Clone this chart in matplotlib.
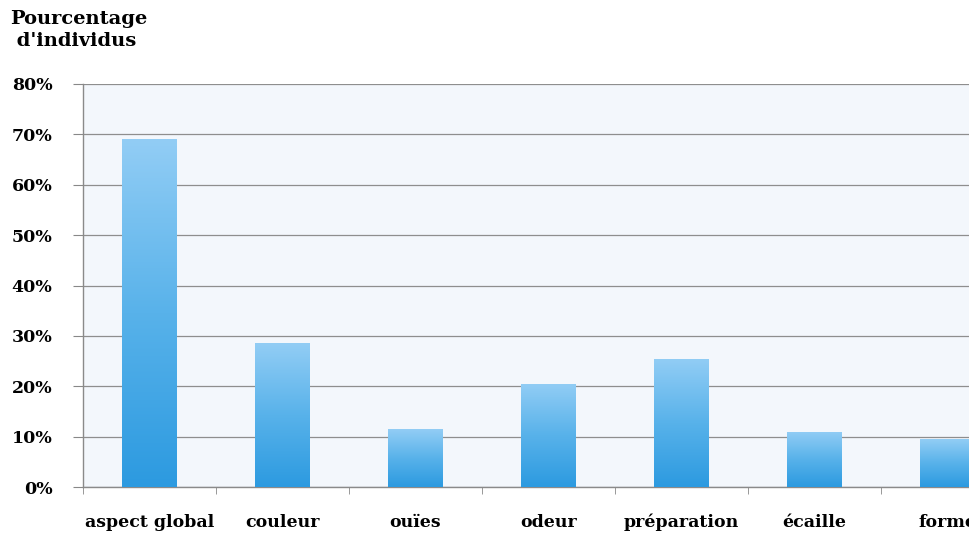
import matplotlib.pyplot as plt
import numpy as np
from matplotlib.colors import LinearSegmentedColormap

categories = ['aspect global', 'couleur', 'ouïes', 'odeur',
              'préparation', 'écaille', 'forme']
values = [0.69, 0.285, 0.115, 0.205, 0.255, 0.11, 0.095]
yticks = [0, 0.1, 0.2, 0.3, 0.4, 0.5, 0.6, 0.7, 0.8]
ytick_labels = ['0%', '10%', '20%', '30%', '40%', '50%', '60%', '70%', '80%']

plt.rcParams['font.family'] = ['DejaVu Serif', 'Liberation Serif']
plt.rcParams['font.weight'] = 'bold'

fig = plt.figure(figsize=(9.69, 5.36), dpi=100)
ax = fig.add_axes([83 / 969, 49 / 536, 1 - 83 / 969, (487 - 84) / 536])
ax.set_facecolor('#f3f7fc')

x = np.arange(len(categories))
bars = ax.bar(x, values, width=0.41, color='none', edgecolor='none', zorder=3)

# vertical gradient inside each bar, light at top, darker at bottom
cmap = LinearSegmentedColormap.from_list('bar', ['#2c9ae0', '#58b2ea', '#92cdf5'])
grad = np.linspace(0, 1, 256).reshape(-1, 1)
for b in bars:
    x0, y0 = b.get_x(), b.get_y()
    w, h = b.get_width(), b.get_height()
    im = ax.imshow(grad, cmap=cmap, origin='lower', aspect='auto',
                   extent=[x0, x0 + w, y0, y0 + h], zorder=3)
    im.set_clip_path(b)

ax.set_yticks(yticks)
ax.set_yticklabels(ytick_labels, fontsize=12.5, fontweight='bold')
ax.set_xticks(x)
ax.set_xticklabels(categories, fontsize=12.5, fontweight='bold', va='baseline')
ax.set_xticks(np.arange(len(categories) + 1) - 0.5, minor=True)
ax.tick_params(axis='x', which='major', length=0, pad=29)
ax.tick_params(axis='x', which='minor', length=5, color='#888888', direction='out')
ax.tick_params(axis='y', length=7, color='#888888', pad=15)

# the original chart is cut at the right edge
ax.set_xlim(-0.5, (969 - 83) / 133 - 0.5)
ax.set_ylim(0, 0.8)

ax.yaxis.grid(True, color='#8e8e8e', linewidth=0.9, zorder=1)
ax.set_axisbelow(True)
for s in ['top', 'right']:
    ax.spines[s].set_visible(False)
for s in ['left', 'bottom']:
    ax.spines[s].set_color('#8a8a8a')
    ax.spines[s].set_linewidth(1.0)

fig.text(10 / 969, 1 - 10 / 536, "Pourcentage\n d'individus", fontsize=14,
         fontweight='bold', va='top', ha='left', linespacing=1.3)

fig.savefig('out.png', dpi=100)
